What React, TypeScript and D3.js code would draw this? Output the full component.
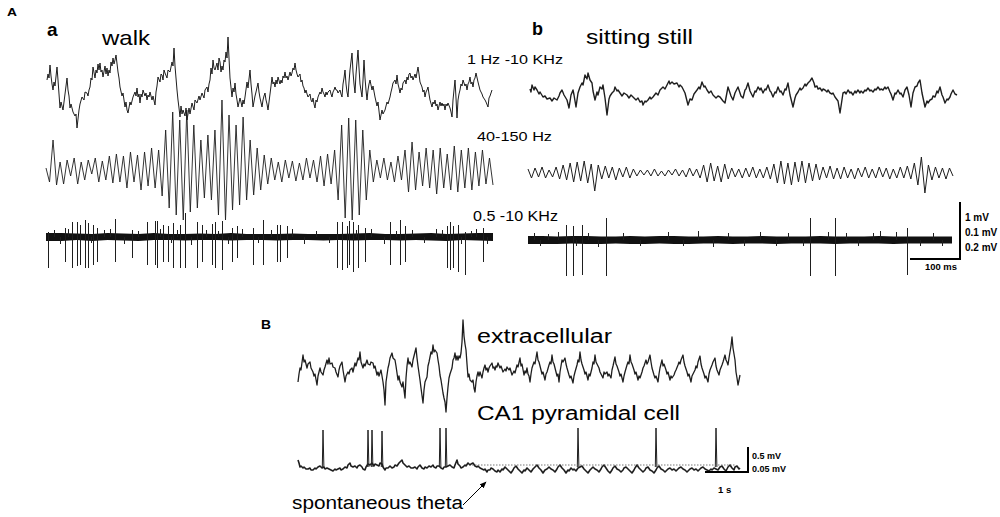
import React from 'react';
import * as d3 from 'd3';

const FONT = "'Liberation Sans', Arial, Helvetica, sans-serif";

// ---------- Panel A a: walk (1 sample = 2 ms, amplitude in a.u.; ~57 a.u. = 1 mV) ----------
// [sample, amplitude]
const walkWide: [number, number][] = [
[1,8],[2,14],[3,10],[4,23],[5,12],[6,4],[7,-2],[8,6],[9,2],[11,21],[12,8],[13,-6],[14,-20],[15,-14],[16,-18],[17,-22],[19,-6],[20,2],[21,10],[22,-2],[23,-8],[24,-20],[25,-16],[26,-20],[27,-24],[29,-28],[30,-26],[31,-40],[33,-22],[34,-16],[36,-9],[38,-12],[39,-4],[41,-5],[42,-8],[43,-2],[44,1],[45,10],[46,8],[47,21],[49,10],[50,18],[51,15],[52,24],[53,18],[54,25],[55,16],[56,18],[57,11],[59,22],[60,14],[61,20],[62,12],[63,18],[64,15],[65,26],[66,22],[67,30],[68,24],[69,28],[70,33],[72,16],[73,10],[74,1],[76,-8],[77,-5],[79,-19],[80,-14],[81,-22],[82,-25],[84,-14],[85,-17],[87,-9],[89,-4],[90,-8],[91,0],[92,-9],[93,-6],[94,-15],[95,-6],[96,-9],[97,-2],[99,-8],[100,-5],[101,-12],[102,-7],[103,-9],[104,-4],[106,-12],[107,-8],[109,-17],[110,-4],[111,2],[112,11],[114,6],[115,14],[116,13],[117,8],[118,18],[119,15],[121,10],[122,18],[124,16],[126,26],[127,22],[128,40],[129,22],[130,10],[131,-2],[132,-12],[133,-20],[134,-29],[135,-18],[136,-26],[137,-22],[139,-28],[140,-20],[141,-32],[143,-20],[144,-26],[146,-15],[148,-22],[149,-12],[151,-15],[153,-8],[154,-12],[156,-5],[158,-10],[159,-2],[161,1],[162,-4],[163,4],[164,8],[165,20],[166,14],[167,28],[168,20],[169,18],[171,25],[172,18],[173,30],[174,26],[175,16],[176,22],[177,18],[178,28],[179,26],[180,36],[181,30],[182,51],[183,30],[184,10],[186,-9],[187,0],[188,-4],[189,5],[190,-6],[191,-12],[192,-19],[194,-10],[195,-14],[196,-19],[197,-12],[198,-16],[199,-9],[201,6],[202,0],[204,18],[205,4],[206,-6],[207,-19],[209,-8],[210,-4],[212,5],[213,-4],[214,-10],[216,-19],[217,-12],[218,-8],[219,-5],[220,-12],[221,-16],[222,-22],[224,-6],[225,2],[226,11],[227,4],[228,6],[229,1],[230,8],[231,4],[232,11],[234,4],[235,8],[236,5],[237,12],[238,10],[239,16],[240,10],[241,12],[242,8],[244,16],[245,12],[246,15],[247,20],[248,18],[249,25],[250,18],[251,14],[252,11],[254,14],[255,6],[256,8],[257,2],[258,0],[259,-5],[260,-2],[261,-6],[262,-9],[264,-6],[265,-12],[266,-14],[267,-10],[268,-16],[269,-20],[270,-12],[271,-14],[272,-9],[274,-4],[275,-6],[276,0],[277,-4],[278,-6],[279,-9],[280,-4],[281,-7],[282,-4],[284,-2],[285,-6],[286,-9],[287,-4],[288,-2],[289,1],[290,-2],[291,-2],[292,-5],[294,-2],[295,-6],[296,-9],[297,4],[298,10],[299,18],[300,4],[301,-4],[302,-9],[303,6],[304,18],[306,35],[307,16],[308,4],[309,-5],[310,14],[311,26],[312,38],[313,20],[314,4],[316,-9],[317,8],[318,28],[319,10],[320,-2],[321,-12],[322,-2],[323,4],[324,8],[326,-2],[327,2],[329,-9],[331,-18],[332,-14],[334,-32],[336,-22],[337,-26],[339,-22],[341,-14],[342,-16],[344,-9],[345,-4],[346,0],[347,5],[349,8],[350,4],[351,13],[352,4],[353,0],[354,-5],[355,0],[356,-2],[357,5],[359,8],[360,4],[361,11],[362,8],[363,14],[364,15],[365,10],[366,12],[367,8],[369,14],[370,10],[372,21],[373,14],[374,6],[376,1],[377,-4],[378,-2],[379,-9],[380,-4],[381,-2],[382,1],[383,-6],[384,-12],[386,-19],[387,-14],[388,-16],[389,-12],[390,-18],[391,-16],[392,-22],[394,-14],[395,-18],[396,-15],[397,-18],[398,-16],[399,-22],[400,-16],[401,-18],[402,-15],[404,-20],[405,-24],[406,-29],[407,-12],[408,-2],[409,8],[410,-10],[411,-30],[412,-12],[413,-6],[414,-2],[415,4],[416,2],[417,8],[419,2],[420,4],[421,-2],[422,4],[423,6],[424,11],[425,4],[426,6],[427,1],[428,8],[429,10],[430,15],[432,6],[433,2],[434,-2],[435,-4],[436,-6],[437,-9],[439,-12],[440,-14],[442,-19],[443,-10],[444,-8],[446,-2],
];

const walkGammaV = [
  2,-12,30,-15,8,-14,10,-6,12,-14,
  8,-10,10,-4,12,-12,9,-10,14,-13,
  16,-12,14,-18,18,-12,15,-20,18,-16,
  22,-18,20,-26,40,-38,58,-45,50,-50,
  60,-42,45,-38,30,-28,35,-30,40,-45,
  70,-50,55,-40,45,-35,53,-30,30,-25,
  22,-20,15,-14,12,-10,8,-12,10,-8,
  9,-11,7,-10,12,-8,10,-12,14,-16,
  16,-14,20,-30,45,-48,52,-50,50,-45,
  40,-30,20,-12,10,-8,12,-10,8,-12,
  14,-10,20,-22,28,-20,18,-16,22,-18,
  20,-24,22,-18,16,-20,24,-22,20,-18,
  22,-20,18,-16,20,-14,12,-15,
];

const walkSpikeT = [2,19,26,31,34,39,42,47,51,69,86,101,109,111,117,122,127,134,139,151,156,166,169,176,186,191,207,217,231,234,241,291,296,301,303,307,312,319,344,354,359,401,404,407,412,419,437];
const walkSpikeMin = [-31,-25,-31,-29,-28,-31,-31,-28,-25,-25,-21,-28,-28,-31,-25,-25,-31,-31,-31,-31,-25,-28,-31,-33,-25,-21,-28,-28,-25,-25,-21,-31,-33,-31,-28,-35,-31,-25,-28,-28,-25,-31,-33,-31,-35,-38,-25];
const walkSpikeMax = [5,9,15,15,12,17,14,12,9,18,7,15,16,16,12,11,14,12,24,15,12,13,15,16,9,11,9,17,12,12,11,15,15,11,16,15,12,9,15,17,11,11,15,11,12,5,9];
const walkHairT = [8,14,22,45,58,64,78,92,114,125,131,145,160,172,182,196,212,225,246,258,270,283,310,325,338,350,366,378,390,396,415,425,430,441];
const walkHairV = [7,-7,8,-6,7,8,-7,6,8,-6,7,-8,7,6,-7,8,-6,7,8,-7,6,-6,7,8,-7,6,7,-6,8,7,-7,6,8,-7];
const walkBandUpper = [4,4,3.5,3,4,3.5,3,4,3,3,3.5,3,4,3,3,3,3.5,3,3,3,3.5,4,3,3,3.5,4,3,3.5,4,4];
const walkBandLower = [-4,-4,-3,-4,-3,-3.5,-4,-3,-3,-3.5,-3,-3,-3.5,-3,-3,-3.5,-3,-3,-3.5,-3,-3.5,-3,-3,-3.5,-3,-3.5,-4,-3,-3.5,-4];

// ---------- Panel A b: sitting still ----------
const sitWideT = [0,1,2,4,5,7,9,10,13,15,17,20,22,24,27,29,30,32,34,37,39,41,43,44,46,48,50,52,53,55,57,58,60,62,63,65,67,68,70,72,73,75,77,79,80,82,84,85,87,88,90,92,94,97,99,101,103,106,108,110,112,113,115,116,118,120,121,123,126,128,130,133,135,137,139,140,142,144,147,149,150,152,155,158,160,162,164,167,169,170,172,174,175,177,179,181,183,186,188,190,193,195,198,200,201,203,205,206,208,210,211,213,215,216,218,220,221,223,225,226,228,230,231,233,235,236,238,240,241,243,245,246,248,250,251,253,255,256,258,260,263,265,266,268,270,271,273,275,276,278,280,282,284,285,287,288,290,292,293,295,297,298,300,302,303,305,308,310,313,315,316,318,320,321,323,325,326,328,330,331,333,335,336,338,340,341,343,345,346,348,350,351,353,355,356,358,360,361,363,365,366,368,370,371,373,375,377,379,381,383,385,387,388,390,392,395,397,398,400,402,403,405,407,408,410,412,413,415,417,418,420,421,423,425,427];
const sitWideV = [6,3,10,5,8,5,1,3,-2,-1,-4,-3,-6,-3,-5,-1,2,5,0,-5,-13,0,5,0,-12,2,8,12,10,20,16,22,15,12,4,-5,3,0,8,6,10,-3,-20,-4,-1,2,4,8,4,5,2,-1,2,0,-3,0,-2,-5,-3,-7,-6,-10,-6,-7,-5,-2,-4,-2,2,0,5,8,6,10,14,11,13,11,12,8,10,8,2,-10,-4,-5,1,5,8,6,13,8,9,5,2,4,0,-3,-1,-2,-6,-8,8,2,-1,-5,2,4,8,2,-1,-3,5,6,12,4,2,-2,4,3,8,5,7,2,6,5,10,4,3,-2,3,2,8,3,4,0,6,5,12,0,-12,-3,0,3,7,5,7,11,9,12,14,17,12,8,9,6,7,4,6,5,3,5,2,1,2,-2,-6,-18,2,3,1,5,2,3,0,4,2,5,2,4,2,5,4,7,4,5,3,6,5,8,5,6,5,8,6,8,3,1,-5,2,1,5,1,2,-2,5,8,0,-12,2,8,9,12,15,2,-12,-6,-8,-5,-4,-1,-2,4,2,8,0,-2,-8,-4,-5,-2,1,5,1,0];

const sitGammaV = [
  4,-5,5,-4,6,-5,3,-4,6,-6,
  8,-7,10,-9,11,-8,12,-10,9,-18,
  8,-6,7,-5,6,-7,5,-4,6,-5,
  4,-3,3,-2,3,-3,4,-3,2,-3,
  3,-2,4,-3,3,-4,5,-3,4,-5,
  8,-9,10,-8,7,-9,9,-6,5,-4,
  4,-5,5,-4,6,-5,4,-5,6,-6,
  9,-10,12,-11,10,-12,11,-9,12,-10,
  10,-8,9,-7,6,-5,7,-6,5,-6,
  6,-5,4,-6,5,-4,6,-5,4,-5,
  6,-4,5,-6,4,-5,6,-5,7,-6,
  10,-12,16,-20,8,-7,6,-5,5,-6,
  5,-3,
];

const sitSpikeT = [38,45,54,78,282,307,379];
const sitSpikeMin = [-36,-36,-35,-36,-36,-36,-35];
const sitSpikeMax = [15,14,15,22,22,22,12];
const sitHairT = [6,12,20,30,48,60,70,95,112,140,155,170,185,200,216,232,248,260,275,300,318,330,345,352,368,392,405,414];
const sitHairV = [7,-6,6,8,-6,7,-7,7,-6,8,-6,9,-7,7,-6,8,-6,7,-6,8,7,-6,7,9,8,-6,7,-6];
const sitBandUpper = [4,4,3.5,4,4,3.5,3.5,4,3.5,4,4,3.5,3.5,4,3.5,3.5,4,3.5,3.5,3.5,4,3.5,3.5,3.5,4,3.5,3.5,3.5,3.5,3.5];
const sitBandLower = [-4,-4,-4,-3.5,-4,-4,-3.5,-4,-4,-3.5,-4,-4,-3.5,-3.5,-4,-3.5,-3.5,-4,-3.5,-3.5,-3.5,-4,-3.5,-3.5,-3.5,-4,-3.5,-3.5,-3.5,-3.5];

// ---------- Panel B (1 sample ≈ 23 ms; 43 samples = 1 s) ----------
const extra: [number, number][] = [
[0,-12],[1,-4],[2,2],[3,0],[5,15],[6,8],[7,10],[9,2],[10,6],[12,8],[13,2],[15,-2],[16,-6],[17,-4],[19,-15],[20,-6],[22,2],[23,-2],[25,-5],[26,0],[27,3],[29,10],[30,6],[31,12],[32,6],[34,7],[35,3],[37,2],[38,-2],[40,-7],[41,0],[42,4],[44,8],[45,0],[47,-12],[48,-6],[50,-2],[51,-4],[52,0],[54,2],[55,-2],[57,7],[58,4],[60,12],[61,10],[62,18],[63,8],[65,2],[66,6],[67,4],[69,10],[70,6],[72,5],[73,8],[75,7],[76,2],[77,4],[79,-5],[80,-2],[81,-6],[83,0],[85,-12],[86,-20],[87,-35],[88,-12],[90,2],[91,6],[92,12],[94,17],[95,12],[97,10],[98,4],[100,-10],[101,-6],[102,-12],[104,-17],[105,-12],[106,-20],[107,-28],[108,-8],[109,4],[110,12],[111,6],[112,8],[114,3],[115,10],[116,14],[118,22],[119,12],[120,4],[122,-10],[123,-18],[125,-33],[126,-20],[127,-12],[129,-7],[130,4],[131,8],[132,13],[133,18],[134,16],[135,25],[136,18],[137,20],[139,17],[140,10],[141,4],[142,-5],[143,-10],[145,-23],[146,-28],[147,-32],[148,-42],[149,-28],[150,-17],[151,-8],[152,-4],[154,2],[155,10],[156,12],[157,17],[158,10],[159,14],[160,10],[161,14],[162,12],[163,17],[164,28],[165,50],[166,34],[167,26],[168,20],[169,6],[170,-7],[171,-4],[172,-10],[174,-12],[175,-10],[176,-18],[177,-22],[178,-12],[179,-6],[180,-2],[181,-6],[182,-2],[184,-8],[185,-2],[186,2],[187,5],[188,0],[189,2],[190,-2],[191,2],[192,4],[194,7],[195,2],[196,3],[197,0],[198,4],[199,3],[200,7],[202,2],[203,4],[205,-2],[207,1],[208,-1],[209,3],[211,0],[212,2],[214,-5],[216,-1],[217,-3],[219,5],[220,3],[222,12],[223,4],[224,6],[226,-5],[227,-1],[228,-3],[229,2],[230,-4],[231,-6],[232,-12],[233,-4],[234,2],[236,8],[237,6],[238,12],[239,18],[240,10],[241,8],[243,0],[244,-4],[245,-2],[247,-10],[248,-4],[249,-2],[251,5],[252,8],[253,6],[254,15],[255,8],[256,6],[258,-2],[259,-6],[260,-4],[261,-12],[262,-2],[263,4],[264,10],[265,8],[266,10],[267,12],[268,6],[269,2],[271,-5],[272,-8],[273,-6],[275,-13],[276,-6],[277,-2],[279,5],[280,10],[281,8],[282,18],[283,10],[284,6],[286,0],[287,-4],[288,-2],[290,-10],[291,-4],[292,-6],[294,2],[295,8],[296,6],[297,15],[298,8],[299,6],[301,2],[302,-2],[303,-4],[305,-8],[306,-2],[307,-4],[309,-2],[310,-6],[311,-4],[313,-8],[314,0],[315,4],[317,13],[318,6],[319,4],[321,-2],[322,-6],[323,-4],[325,-12],[326,-6],[327,-2],[329,5],[330,8],[331,6],[332,15],[333,8],[334,6],[336,0],[337,-4],[338,-2],[340,-10],[341,-6],[342,-8],[344,-2],[345,2],[346,4],[348,10],[349,6],[350,8],[352,15],[353,8],[354,2],[356,-5],[357,-8],[358,-6],[360,-12],[361,-4],[362,2],[364,10],[365,4],[366,6],[368,0],[369,-4],[370,-2],[372,-10],[373,-6],[374,-8],[376,-5],[377,-2],[378,0],[380,5],[381,8],[382,6],[383,10],[385,15],[386,8],[387,4],[389,-2],[390,-6],[391,-4],[393,-12],[394,-6],[395,-4],[397,0],[398,4],[399,2],[400,8],[402,14],[403,6],[404,2],[406,-4],[407,-8],[408,-6],[410,-12],[411,-4],[412,0],[414,5],[415,8],[417,12],[418,4],[419,0],[421,-5],[422,0],[424,5],[425,8],[427,15],[428,10],[429,8],[430,5],[431,12],[432,18],[433,24],[434,33],[435,22],[436,16],[437,10],[438,-2],[439,-8],[440,-15],[441,-10],[442,-5],
];

const intra: [number, number][] = [
[0,5],[1,2],[2,-2],[3,-1],[5,-3],[6,-2],[8,-4],[10,-4],[12,-3],[13,-5],[15,-5],[17,-3],[18,-4],[20,-2],[22,-1],[24,-3],[26,-2],[27,-4],[29,-3],[31,-4],[33,-5],[35,-6],[37,-4],[38,-5],[40,-4],[42,-3],[43,-5],[45,-4],[47,-2],[49,-3],[50,0],[52,2],[53,-1],[55,-2],[57,-1],[59,-3],[60,-1],[62,0],[64,-2],[65,-4],[67,-5],[68,-2],[70,1],[72,0],[74,2],[76,-1],[77,1],[79,0],[81,-1],[82,2],[84,1],[85,-2],[87,-5],[88,-3],[90,-3],[92,-1],[94,-3],[96,-2],[97,0],[99,-1],[101,2],[102,3],[104,5],[105,2],[107,0],[109,-2],[111,-1],[113,-3],[115,-3],[117,-2],[119,-4],[120,-2],[122,0],[124,-3],[126,-4],[127,-2],[129,-3],[131,-1],[133,-2],[135,0],[136,-2],[138,-3],[139,-1],[141,-1],[143,-3],[145,-4],[146,-2],[148,-2],[150,-1],[152,0],[154,-2],[156,-3],[157,0],[159,5],[160,1],[162,-1],[163,-3],[165,-2],[167,0],[168,-1],[170,2],[172,0],[173,1],[175,2],[177,-1],[179,-2],[180,-1],[182,-3],[184,-4],[186,-5],[187,-4],[189,-7],[190,-5],[192,-5],[193,-3],[195,-4],[197,-6],[199,-7],[200,-5],[202,-7],[204,-4],[205,-5],[207,-2],[209,-4],[211,-6],[213,-8],[215,-5],[216,-3],[218,-1],[220,-4],[222,-6],[224,-8],[226,-5],[227,-6],[229,-3],[231,-5],[233,-7],[235,-4],[237,-2],[239,0],[241,-3],[243,-5],[245,-8],[247,-5],[249,-4],[251,-2],[253,-4],[255,-5],[257,-7],[259,-4],[260,-2],[262,0],[264,-3],[266,-5],[268,-8],[270,-5],[271,-6],[273,-3],[275,-5],[276,-4],[278,-6],[280,-3],[282,-2],[284,-1],[286,-4],[288,-6],[290,-8],[292,-5],[293,-4],[295,-2],[297,-4],[299,-5],[301,-7],[303,-4],[304,-2],[306,0],[308,-3],[310,-6],[312,-8],[314,-5],[315,-3],[317,-1],[319,-4],[321,-5],[323,-7],[325,-5],[326,-3],[328,-2],[330,-4],[332,-6],[334,-8],[336,-5],[337,-3],[339,0],[341,-3],[343,-5],[345,-7],[347,-5],[348,-3],[350,-2],[352,-5],[354,-6],[356,-8],[358,-5],[359,-3],[361,-1],[363,-4],[365,-5],[367,-7],[369,-5],[370,-4],[372,-3],[374,-5],[376,-4],[378,-6],[380,-4],[381,-3],[383,-2],[385,-4],[387,-5],[389,-7],[391,-5],[392,-4],[394,-3],[396,-5],[398,-4],[400,-6],[402,-4],[403,-3],[405,-2],[407,-4],[409,-5],[411,-6],[413,-4],[414,-5],[416,-3],[418,-4],[420,-5],[422,-2],[424,-1],[426,-4],[428,-6],[430,-2],[432,0],[434,-3],[436,-5],[437,-2],[439,-1],[441,-4],[442,-3],
];
const apT = [25,70,74,84,142,148,280,358,418];
const apPeak = [35,35,35,34,37,37,37,37,37];

// scale-bar values
const A_BAR_MS = 100; const A_MS_PER_SAMPLE = 2; const A_BAR_UNITS = 57;
const B_BAR_SAMPLES_PER_S = 43; const B_BAR_UNITS = 25;

type Frame = { x0: number; dur: number; cy: number };
const mk = (f: Frame) => ({
  x: d3.scaleLinear().domain([0, f.dur]).range([f.x0, f.x0 + f.dur]),
  y: d3.scaleLinear().domain([-60, 60]).range([f.cy + 60, f.cy - 60]),
});

const F = {
  walkWide: { x0: 46, dur: 447, cy: 88 },
  walkGamma: { x0: 46, dur: 447, cy: 170 },
  walkUnit: { x0: 46, dur: 447, cy: 237 },
  sitWide: { x0: 530, dur: 427, cy: 95 },
  sitGamma: { x0: 528, dur: 425, cy: 173 },
  sitUnit: { x0: 528, dur: 424, cy: 240 },
  extra: { x0: 298, dur: 442, cy: 370 },
  intra: { x0: 298, dur: 442, cy: 465 },
};

const STROKE = '#1e1e1e';

function linePath(f: Frame, ts: number[], vs: number[]) {
  const s = mk(f);
  return d3.line<number>().x((_, i) => s.x(ts[i])).y((v) => s.y(v))(vs) || '';
}
function pairPath(f: Frame, pts: [number, number][]) {
  const s = mk(f);
  return d3.line<[number, number]>().x((d) => s.x(d[0])).y((d) => s.y(d[1]))(pts) || '';
}
function evenPath(f: Frame, vs: number[]) {
  const ts = vs.map((_, i) => (i * f.dur) / (vs.length - 1));
  return linePath(f, ts, vs);
}
function bandPath(f: Frame, up: number[], lo: number[]) {
  const s = mk(f);
  const n = up.length;
  const ts = up.map((_, i) => (i * f.dur) / (n - 1));
  return d3.area<number>().x((_, i) => s.x(ts[i])).y0((_, i) => s.y(lo[i])).y1((v) => s.y(v))(up) || '';
}

function Spikes({ f, ts, mins, maxs, w = 1 }: { f: Frame; ts: number[]; mins: number[]; maxs: number[]; w?: number }) {
  const s = mk(f);
  return (
    <g stroke={STROKE} strokeWidth={w}>
      {ts.map((t, i) => (
        <line key={i} x1={Math.round(s.x(t)) + 0.5} x2={Math.round(s.x(t)) + 0.5} y1={s.y(mins[i])} y2={s.y(maxs[i])} />
      ))}
    </g>
  );
}

function T({ x, y, size, bold, len, children }: any) {
  return (
    <text x={x} y={y} fontSize={size} fontWeight={bold ? 'bold' : 'normal'} fontFamily={FONT} fill="#000"
      {...(len ? { textLength: len, lengthAdjust: 'spacingAndGlyphs' } : {})}>
      {children}
    </text>
  );
}

export default function App() {
  const su = mk(F.sitUnit);
  const barH = su.x(A_BAR_MS / A_MS_PER_SAMPLE) - su.x(0);
  const barV = su.y(0) - su.y(A_BAR_UNITS);
  const bx = 960, by = 259;

  const si = mk(F.intra);
  const bBarH = si.x(B_BAR_SAMPLES_PER_S) - si.x(0);
  const bBarV = si.y(0) - si.y(B_BAR_UNITS);
  const Bx = 748, By = 472;

  const apPaths = apT.map((t, i) =>
    d3.line<[number, number]>().x((d) => si.x(d[0])).y((d) => si.y(d[1]))([
      [t - 0.7, -2], [t, apPeak[i]], [t + 0.9, -2],
    ]) || '');

  return (
    <svg width={1000} height={517} style={{ position: 'absolute', left: 0, top: 0, background: '#fff' }}>
      <rect width={1000} height={517} fill="#fff" />
      <defs>
        <marker id="arr" viewBox="0 0 10 10" refX="9" refY="5" markerWidth="7" markerHeight="7" orient="auto">
          <path d="M0,1 L10,5 L0,9 z" fill="#000" />
        </marker>
      </defs>

      {/* labels */}
      <T x={7} y={16} size={10} bold len={10}>A</T>
      <T x={47} y={36} size={19} bold>a</T>
      <T x={102} y={45} size={21} len={48}>walk</T>
      <T x={467} y={64} size={13} len={96}>1 Hz -10 KHz</T>
      <T x={477} y={141} size={13} len={75}>40-150 Hz</T>
      <T x={473} y={221} size={14} len={85}>0.5 -10 KHz</T>
      <T x={532} y={35} size={18} bold>b</T>
      <T x={586} y={44} size={21} len={107}>sitting still</T>
      <T x={261} y={329} size={12} bold len={10}>B</T>
      <T x={477} y={343} size={20} len={135}>extracellular</T>
      <T x={477} y={420} size={20} len={203}>CA1 pyramidal cell</T>
      <T x={292} y={509} size={18} len={171}>spontaneous theta</T>

      {/* LFP traces */}
      <g fill="none" stroke={STROKE} strokeWidth={1} strokeLinejoin="round">
        <path d={pairPath(F.walkWide, walkWide)} />
        <path d={evenPath(F.walkGamma, walkGammaV)} strokeWidth={0.9} />
        <path d={linePath(F.sitWide, sitWideT, sitWideV)} strokeWidth={1.4} />
        <path d={evenPath(F.sitGamma, sitGammaV)} />
      </g>
      <path d={bandPath(F.walkUnit, walkBandUpper, walkBandLower)} fill="#111" />
      <Spikes f={F.walkUnit} ts={walkSpikeT} mins={walkSpikeMin} maxs={walkSpikeMax} />
      <Spikes f={F.walkUnit} ts={walkHairT} mins={walkHairT.map(() => 0)} maxs={walkHairV} />
      <path d={bandPath(F.sitUnit, sitBandUpper, sitBandLower)} fill="#111" />
      <Spikes f={F.sitUnit} ts={sitSpikeT} mins={sitSpikeMin} maxs={sitSpikeMax} />
      <Spikes f={F.sitUnit} ts={sitHairT} mins={sitHairT.map(() => 0)} maxs={sitHairV} />

      {/* b scale bar */}
      <path d={`M${bx},${by - barV}V${by}H${bx - barH}`} fill="none" stroke="#000" strokeWidth={2} />
      <T x={965} y={221} size={10} bold>1 mV</T>
      <T x={965} y={236} size={10} bold>0.1 mV</T>
      <T x={965} y={251} size={10} bold>0.2 mV</T>
      <T x={925} y={270} size={9.5} bold len={32}>100 ms</T>

      {/* Panel B */}
      <g fill="none" stroke={STROKE} strokeWidth={1.3} strokeLinejoin="round">
        <path d={pairPath(F.extra, extra)} />
        <path d={pairPath(F.intra, intra)} strokeWidth={1.6} />
      </g>
      <g fill="none" stroke={STROKE} strokeWidth={1}>
        {apPaths.map((d, i) => <path key={i} d={d} />)}
      </g>
      <line x1={si.x(174)} x2={si.x(437)} y1={si.y(0)} y2={si.y(0)} stroke="#555" strokeWidth={0.8} strokeDasharray="1.5 1.5" />
      <path d={`M${Bx},${By - bBarV}V${By}H${Bx - bBarH}`} fill="none" stroke="#000" strokeWidth={2} />
      <T x={752} y={459} size={9} bold>0.5 mV</T>
      <T x={752} y={472} size={9} bold>0.05 mV</T>
      <T x={718} y={493} size={9.5} bold>1 s</T>
      <line x1={si.x(165)} y1={si.y(-40)} x2={si.x(188)} y2={si.y(-17)} stroke="#000" strokeWidth={1} markerEnd="url(#arr)" />
    </svg>
  );
}
